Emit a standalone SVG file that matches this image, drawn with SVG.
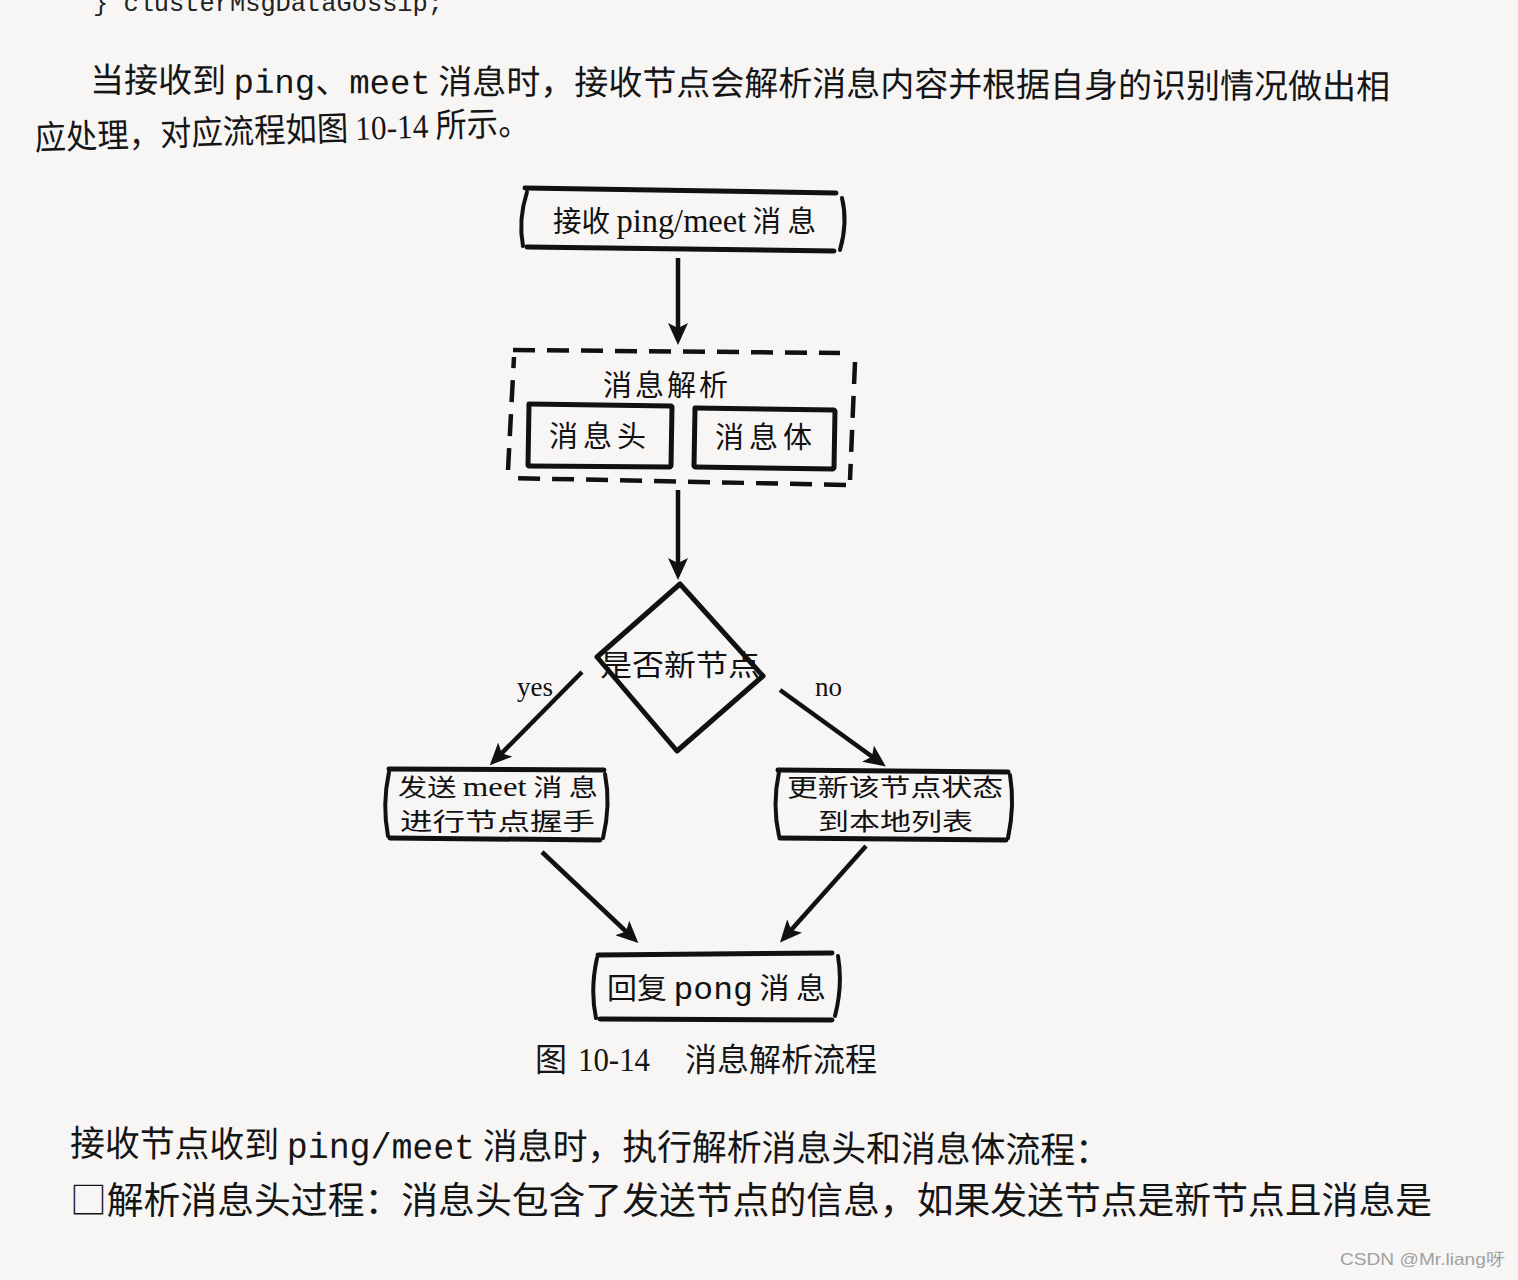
<svg xmlns="http://www.w3.org/2000/svg" width="1518" height="1280" viewBox="0 0 1518 1280">
<defs>
<marker id="ah" viewBox="0 0 22 20" refX="16" refY="10" markerWidth="22" markerHeight="20" orient="auto" markerUnits="userSpaceOnUse">
<path d="M0,0 L22,10 L0,20 L5,10 z" fill="#111"/>
</marker>
<style>
.bg{fill:#f8f6f5}
.body{font-family:"Noto Sans CJK SC","Liberation Sans",sans-serif;fill:#151515}
.mono{font-family:"Liberation Mono","DejaVu Sans Mono",monospace}
.serif{font-family:"Liberation Serif","Noto Sans CJK SC",serif}
.hand{font-family:"Noto Sans CJK SC","Liberation Serif",sans-serif;fill:#111;font-size:29px}
.two{font-size:24px}
.ln{fill:none;stroke:#111;stroke-width:5;stroke-linecap:round}
.sd{fill:none;stroke:#111;stroke-width:4;stroke-linecap:round}
.dash{fill:none;stroke:#111;stroke-width:4.5;stroke-dasharray:22 12}
.con{fill:none;stroke:#111;stroke-width:4.5;marker-end:url(#ah)}
</style>
</defs>
<rect class="bg" x="0" y="0" width="1518" height="1280"/>

<g id="page-text">
<text class="mono" x="93" y="11" font-size="26" fill="#222" textLength="350" lengthAdjust="spacingAndGlyphs">} clusterMsgDataGossip;</text>
<text class="body" x="90" y="92" font-size="34" textLength="1300" lengthAdjust="spacingAndGlyphs" transform="rotate(0.3 90 92)">当接收到 <tspan class="mono">ping</tspan>、<tspan class="mono">meet</tspan> 消息时，接收节点会解析消息内容并根据自身的识别情况做出相</text>
<text class="body" x="35" y="150" font-size="34" textLength="495" lengthAdjust="spacingAndGlyphs" transform="rotate(-1.8 35 150)">应处理，对应流程如图 <tspan class="serif">10-14</tspan> 所示。</text>
</g>

<g id="connectors">
<line class="con" x1="678" y1="258" x2="678" y2="339"/>
<line class="con" x1="678" y1="490" x2="678" y2="574"/>
<line class="con" x1="582" y1="672" x2="494" y2="761"/>
<line class="con" x1="780" y1="690" x2="881" y2="763"/>
<line class="con" x1="542" y1="852" x2="634" y2="939"/>
<line class="con" x1="866" y1="846" x2="784" y2="938"/>
</g>

<g id="n1-receive">
<path class="ln" d="M525,188 L836,193"/>
<path class="ln" d="M527,247 L834,251"/>
<path class="sd" d="M527,192 Q518,220 523,246"/>
<path class="sd" d="M842,198 Q848,222 840,250"/>
<text class="hand" x="553" y="232" font-size="30" textLength="263" lengthAdjust="spacingAndGlyphs">接收 <tspan class="serif" font-size="33">ping/meet</tspan> 消 息</text>
</g>

<g id="n2-parse">
<path class="dash" d="M513,350 L840,353"/>
<path class="dash" d="M855,362 L850,480"/>
<path class="dash" d="M846,485 L510,478"/>
<path class="dash" d="M508,470 L514,357"/>
<text class="hand" x="667" y="396" font-size="29" text-anchor="middle" letter-spacing="3">消息解析</text>
</g>

<g id="n2a-header">
<path class="ln" d="M529,404 L671,406 M529,466 L670,467"/>
<path class="ln" d="M529,405 L528,465 M672,407 L671,466"/>
<text class="hand" x="600" y="447" font-size="28" text-anchor="middle" letter-spacing="5">消息头</text>
</g>

<g id="n2b-body">
<path class="ln" d="M695,408 L834,410 M695,467 L833,469"/>
<path class="ln" d="M695,409 L694,466 M835,411 L834,468"/>
<text class="hand" x="766" y="448" font-size="28" text-anchor="middle" letter-spacing="5">消息体</text>
</g>

<g id="n3-decision">
<path class="ln" d="M680,584 L597,657 L677,751 L763,676 Z" stroke-linejoin="round"/>
<text class="hand" x="600" y="676" font-size="30" textLength="160" lengthAdjust="spacingAndGlyphs">是否新节点</text>
<text class="serif" x="517" y="696" font-size="27" fill="#111">yes</text>
<text class="serif" x="815" y="696" font-size="27" fill="#111">no</text>
</g>

<g id="n4-meet">
<path class="ln" d="M389,769 L604,770"/>
<path class="ln" d="M390,838 L600,840"/>
<path class="sd" d="M389,772 Q382,805 388,836"/>
<path class="sd" d="M605,774 Q611,805 603,838"/>
<text class="hand two" x="398" y="796" textLength="200" lengthAdjust="spacingAndGlyphs">发送 <tspan class="serif" font-size="27">meet</tspan> 消 息</text>
<text class="hand two" x="400" y="830" textLength="195" lengthAdjust="spacingAndGlyphs">进行节点握手</text>
</g>

<g id="n5-update">
<path class="ln" d="M778,770 L1008,772"/>
<path class="ln" d="M780,838 L1006,840"/>
<path class="sd" d="M779,772 Q772,805 779,836"/>
<path class="sd" d="M1010,775 Q1015,805 1008,838"/>
<text class="hand two" x="787" y="796" textLength="216" lengthAdjust="spacingAndGlyphs">更新该节点状态</text>
<text class="hand two" x="818" y="830" textLength="155" lengthAdjust="spacingAndGlyphs">到本地列表</text>
</g>

<g id="n6-pong">
<path class="ln" d="M598,955 L832,953"/>
<path class="ln" d="M600,1019 L832,1020"/>
<path class="sd" d="M597,958 Q590,990 596,1018"/>
<path class="sd" d="M838,956 Q843,985 835,1016"/>
<text class="hand" x="607" y="999" textLength="219" lengthAdjust="spacingAndGlyphs">回复 <tspan class="mono" font-size="32">pong</tspan> 消 息</text>
</g>

<g id="caption">
<text class="body" x="535" y="1071" font-size="32">图</text>
<text class="serif" x="578" y="1071" font-size="33" fill="#151515" textLength="72" lengthAdjust="spacingAndGlyphs">10-14</text>
<text class="body" x="685" y="1071" font-size="32" textLength="192" lengthAdjust="spacingAndGlyphs">消息解析流程</text>
</g>

<g id="bottom-text">
<text class="body" x="70" y="1156" font-size="36" textLength="1040" lengthAdjust="spacingAndGlyphs" transform="rotate(0.4 70 1156)">接收节点收到 <tspan class="mono">ping/meet</tspan> 消息时，执行解析消息头和消息体流程：</text>
<text class="body" x="70" y="1214" font-size="37" textLength="1362" lengthAdjust="spacingAndGlyphs">□解析消息头过程：消息头包含了发送节点的信息，如果发送节点是新节点且消息是</text>
</g>

<text id="watermark" x="1340" y="1265" font-family="Liberation Sans, sans-serif" font-size="17" fill="#a0a0a0" textLength="165" lengthAdjust="spacingAndGlyphs">CSDN @Mr.liang呀</text>
</svg>
